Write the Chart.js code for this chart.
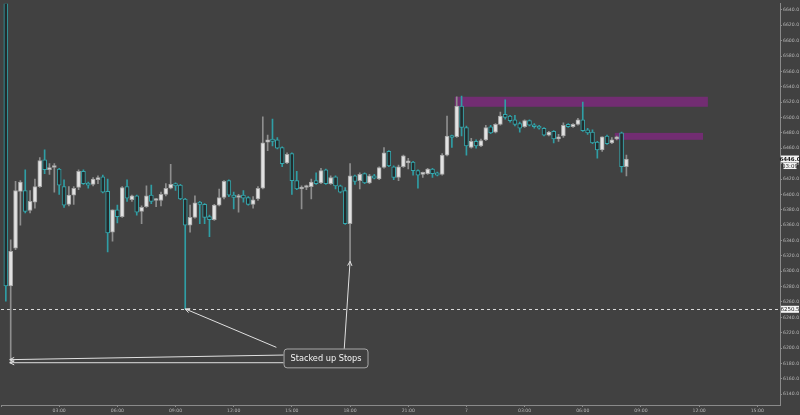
<!DOCTYPE html>
<html>
<head>
<meta charset="utf-8">
<script src="https://cdn.jsdelivr.net/npm/chart.js@4.4.1/dist/chart.umd.min.js"></script>
<style>
  html, body { margin: 0; padding: 0; background: #414141; }
  #wrap { width: 800px; height: 415px; }
</style>
</head>
<body>
<div id="wrap"><canvas id="chart"></canvas></div>
<script>
// 15 minute bars, time in hours from the open of day 6
const FIRST_BAR = 0.25;
const BAR_HOURS = 0.25;

const opens = [
  6660, 6281, 6330, 6404, 6405, 6379, 6390, 6410, 6445, 6432,
  6435, 6433, 6410, 6387, 6399, 6409, 6430, 6414, 6413, 6419,
  6423, 6404, 6351, 6380, 6371, 6410, 6393, 6398, 6378, 6384,
  6399, 6392, 6392, 6400, 6408, 6414, 6412, 6394, 6360, 6370,
  6390, 6387, 6371, 6367, 6386, 6396, 6418, 6399, 6396, 6399,
  6396, 6387, 6394, 6408, 6468, 6472, 6471, 6461, 6441, 6453,
  6418, 6407, 6409, 6410, 6418, 6415, 6432, 6414, 6423, 6411,
  6405, 6362, 6424, 6418, 6427, 6415, 6424, 6420, 6435, 6456,
  6436, 6422, 6436, 6441, 6442, 6431, 6426, 6427, 6433, 6428,
  6426, 6451, 6476, 6475, 6515, 6487, 6461, 6469, 6463, 6471,
  6488, 6481, 6491, 6504, 6502, 6497, 6492, 6488, 6496, 6490,
  6489, 6486, 6477, 6482, 6472, 6476, 6491, 6488, 6491, 6497,
  6484, 6481, 6468, 6458, 6476, 6467, 6472, 6480, 6436
];
const highs = [
  6660, 6341, 6417, 6418, 6432, 6405, 6420, 6448, 6458, 6440,
  6440, 6434, 6419, 6410, 6410, 6432, 6432, 6416, 6422, 6424,
  6425, 6420, 6380, 6386, 6410, 6419, 6399, 6399, 6385, 6411,
  6412, 6395, 6403, 6414, 6439, 6415, 6413, 6395, 6386, 6398,
  6391, 6388, 6373, 6387, 6407, 6418, 6419, 6403, 6400, 6405,
  6397, 6397, 6410, 6501, 6477, 6498, 6474, 6462, 6454, 6454,
  6430, 6411, 6412, 6420, 6428, 6434, 6433, 6424, 6424, 6412,
  6409, 6440, 6425, 6428, 6428, 6426, 6426, 6436, 6461, 6457,
  6437, 6438, 6451, 6447, 6443, 6432, 6429, 6434, 6434, 6429,
  6453, 6502, 6477, 6527, 6528, 6489, 6473, 6471, 6472, 6490,
  6490, 6492, 6507, 6523, 6503, 6503, 6494, 6497, 6497, 6492,
  6490, 6487, 6482, 6483, 6478, 6493, 6492, 6492, 6499, 6520,
  6486, 6484, 6469, 6475, 6477, 6474, 6476, 6481, 6451
];
const lows = [
  6261, 6181, 6328, 6360, 6376, 6376, 6382, 6409, 6427, 6426,
  6403, 6400, 6383, 6385, 6387, 6406, 6413, 6408, 6411, 6414,
  6402, 6325, 6339, 6363, 6370, 6391, 6391, 6373, 6362, 6383,
  6388, 6384, 6385, 6398, 6407, 6405, 6393, 6251, 6351, 6369,
  6362, 6362, 6345, 6366, 6385, 6394, 6397, 6381, 6377, 6390,
  6386, 6382, 6392, 6407, 6457, 6463, 6459, 6436, 6440, 6400,
  6406, 6381, 6406, 6394, 6413, 6414, 6413, 6413, 6407, 6402,
  6361, 6313, 6413, 6407, 6414, 6414, 6420, 6419, 6434, 6436,
  6419, 6418, 6435, 6433, 6425, 6408, 6422, 6426, 6422, 6424,
  6425, 6450, 6461, 6474, 6476, 6451, 6460, 6460, 6462, 6470,
  6479, 6480, 6490, 6498, 6494, 6489, 6481, 6487, 6489, 6486,
  6485, 6476, 6476, 6467, 6469, 6474, 6487, 6487, 6490, 6482,
  6478, 6466, 6447, 6456, 6465, 6466, 6471, 6429, 6424
];
const closes = [
  6281, 6326, 6405, 6416, 6378, 6391, 6410, 6444, 6432, 6435,
  6437, 6412, 6386, 6399, 6408, 6430, 6414, 6412, 6420, 6422,
  6403, 6350, 6380, 6371, 6409, 6395, 6398, 6377, 6383, 6398,
  6391, 6393, 6400, 6408, 6413, 6411, 6394, 6360, 6370, 6389,
  6387, 6370, 6367, 6386, 6396, 6417, 6399, 6396, 6398, 6395,
  6387, 6393, 6408, 6467, 6471, 6469, 6460, 6440, 6452, 6418,
  6407, 6409, 6411, 6416, 6414, 6431, 6414, 6422, 6411, 6403,
  6362, 6424, 6417, 6426, 6415, 6424, 6421, 6435, 6454, 6437,
  6422, 6436, 6450, 6443, 6431, 6425, 6428, 6433, 6427, 6425,
  6451, 6476, 6474, 6515, 6487, 6463, 6469, 6463, 6470, 6487,
  6480, 6491, 6502, 6500, 6496, 6491, 6486, 6496, 6490, 6488,
  6486, 6477, 6481, 6472, 6475, 6490, 6488, 6491, 6497, 6483,
  6480, 6467, 6458, 6475, 6466, 6471, 6475, 6436, 6446
];

// supply zones (purple boxes)
const zoneFrom = [23.4, 31.65];
const zoneTo = [36.45, 36.2];
const zoneLow = [6514, 6471];
const zoneHigh = [6527, 6480];

// stop run level and axis tags
const stopLevel = 6250.5;
const lastPrice = 6446.0;
const countdown = '03:09';

// note and its arrows (time in hours, price)
const noteText = 'Stacked up Stops';
const noteFrom = 14.57, noteTo = 18.9, noteTop = 6199.5, noteBottom = 6175;
const arrowFromT = [14.2, 17.7, 14.57, 14.57];
const arrowFromP = [6201, 6199, 6191, 6181];
const arrowToT = [9.5, 18.0, 0.45, 0.45];
const arrowToP = [6251, 6313, 6185, 6181];

const X_MAX = 40.17;
const Y_MIN = 6126, Y_MAX = 6648;

const times = opens.map((_, i) => FIRST_BAR + i * BAR_HOURS);
const isUp = opens.map((o, i) => closes[i] >= o);

const bodies = times.map((t, i) => ({ x: t, y: [opens[i], closes[i]] }));
const wicks = times.map((t, i) => ({ x: t, y: [lows[i], highs[i]] }));

const overlays = {
  id: 'overlays',
  beforeDatasetsDraw(chart) {
    const { ctx, chartArea: a, scales: { x, y } } = chart;
    ctx.save();
    ctx.beginPath();
    ctx.rect(a.left, a.top, a.width, a.height);
    ctx.clip();
    ctx.fillStyle = 'rgba(128, 40, 128, 0.78)';
    zoneFrom.forEach((f, i) => {
      const x0 = x.getPixelForValue(f), x1 = x.getPixelForValue(zoneTo[i]);
      const y0 = y.getPixelForValue(zoneHigh[i]), y1 = y.getPixelForValue(zoneLow[i]);
      ctx.fillRect(x0, y0, x1 - x0, y1 - y0);
    });
    // dashed stop level
    const ly = Math.round(y.getPixelForValue(stopLevel)) + 0.5;
    ctx.strokeStyle = '#d8d8d8';
    ctx.lineWidth = 1;
    ctx.setLineDash([3, 3]);
    ctx.beginPath();
    ctx.moveTo(a.left, ly);
    ctx.lineTo(a.right, ly);
    ctx.stroke();
    ctx.restore();
  },
  afterDatasetsDraw(chart) {
    const { ctx, scales: { x, y } } = chart;
    ctx.save();
    ctx.strokeStyle = '#e0e0e0';
    ctx.lineWidth = 1;
    arrowFromT.forEach((t, i) => {
      const x0 = x.getPixelForValue(t), y0 = y.getPixelForValue(arrowFromP[i]);
      const x1 = x.getPixelForValue(arrowToT[i]), y1 = y.getPixelForValue(arrowToP[i]);
      ctx.beginPath();
      ctx.moveTo(x0, y0);
      ctx.lineTo(x1, y1);
      const ang = Math.atan2(y1 - y0, x1 - x0);
      ctx.moveTo(x1 - 5 * Math.cos(ang - 0.45), y1 - 5 * Math.sin(ang - 0.45));
      ctx.lineTo(x1, y1);
      ctx.lineTo(x1 - 5 * Math.cos(ang + 0.45), y1 - 5 * Math.sin(ang + 0.45));
      ctx.stroke();
    });
    // note box
    const bx0 = x.getPixelForValue(noteFrom), bx1 = x.getPixelForValue(noteTo);
    const by0 = y.getPixelForValue(noteTop), by1 = y.getPixelForValue(noteBottom);
    ctx.fillStyle = '#404040';
    ctx.strokeStyle = '#a8a8a8';
    ctx.beginPath();
    ctx.roundRect(bx0 + 0.5, by0 + 0.5, bx1 - bx0, by1 - by0, 3);
    ctx.fill();
    ctx.stroke();
    ctx.fillStyle = '#f2f2f2';
    ctx.font = '8.2px "DejaVu Sans", sans-serif';
    ctx.textAlign = 'center';
    ctx.textBaseline = 'middle';
    ctx.fillText(noteText, (bx0 + bx1) / 2 + 0.5, (by0 + by1) / 2 + 1);
    ctx.restore();
  },
  afterDraw(chart) {
    const { ctx, chartArea: a, scales: { y } } = chart;
    ctx.save();
    ctx.textAlign = 'center';
    ctx.textBaseline = 'middle';
    const tag = (val, text, dy, h, w, bold) => {
      const cy = y.getPixelForValue(val) + dy;
      const cx = (a.right + 800) / 2;
      ctx.fillStyle = '#f4f4f4';
      ctx.fillRect(cx - w / 2, cy - h / 2, w, h);
      ctx.fillStyle = '#202020';
      ctx.font = (bold ? 'bold ' : '') + '5.5px "DejaVu Sans", sans-serif';
      ctx.fillText(text, cx, cy + 0.5);
    };
    tag(lastPrice, lastPrice.toFixed(1), 0, 7, 18, true);
    tag(lastPrice, countdown, 7, 6, 13, false);
    tag(stopLevel, stopLevel.toFixed(1), 0, 7, 18, false);
    ctx.restore();
  }
};

new Chart(document.getElementById('chart'), {
  type: 'bar',
  data: {
    datasets: [
      {
        label: 'wick',
        data: wicks,
        order: 2,
        grouped: false,
        barThickness: 1,
        clip: 0,
        minBarLength: 1,
        backgroundColor: isUp.map(u => u ? '#8e8e8e' : '#2f9ea5'),
        borderWidth: 0
      },
      {
        label: 'body',
        data: bodies,
        order: 1,
        grouped: false,
        barThickness: 4,
        clip: 0,
        minBarLength: 2,
        backgroundColor: isUp.map(u => u ? '#e2e2e2' : '#242b2c'),
        borderColor: isUp.map(u => u ? '#a4a4a4' : '#35a7ad'),
        borderWidth: 1,
        borderSkipped: false
      }
    ]
  },
  options: {
    responsive: true,
    maintainAspectRatio: false,
    animation: false,
    layout: { padding: 0 },
    plugins: {
      legend: { display: false },
      tooltip: { enabled: false }
    },
    scales: {
      x: {
        type: 'linear',
        min: 0,
        max: X_MAX,
        offset: false,
        grid: { offset: false, drawOnChartArea: false, tickLength: 2, color: '#8a8a8a' },
        border: { color: '#8a8a8a' },
        ticks: {
          stepSize: 3,
          includeBounds: false,
          autoSkip: false,
          maxRotation: 0,
          padding: 1,
          color: '#b4b4b4',
          font: { size: 4.6, family: 'DejaVu Sans' },
          callback: v => {
            if (v === 0) return '';
            const h = v % 24;
            if (h === 0) return String(6 + v / 24);
            return String(h).padStart(2, '0') + ':00';
          }
        },
        afterFit: s => { s.height = 10; }
      },
      y: {
        position: 'right',
        min: Y_MIN,
        max: Y_MAX,
        grid: { drawOnChartArea: false, tickLength: 2, color: '#8a8a8a' },
        border: { color: '#8a8a8a' },
        ticks: {
          stepSize: 20,
          includeBounds: false,
          padding: 1,
          color: '#b4b4b4',
          font: { size: 4.6, family: 'DejaVu Sans' },
          callback: v => v.toFixed(1)
        },
        afterFit: s => { s.width = 20; }
      }
    }
  },
  plugins: [overlays]
});
</script>
</body>
</html>
